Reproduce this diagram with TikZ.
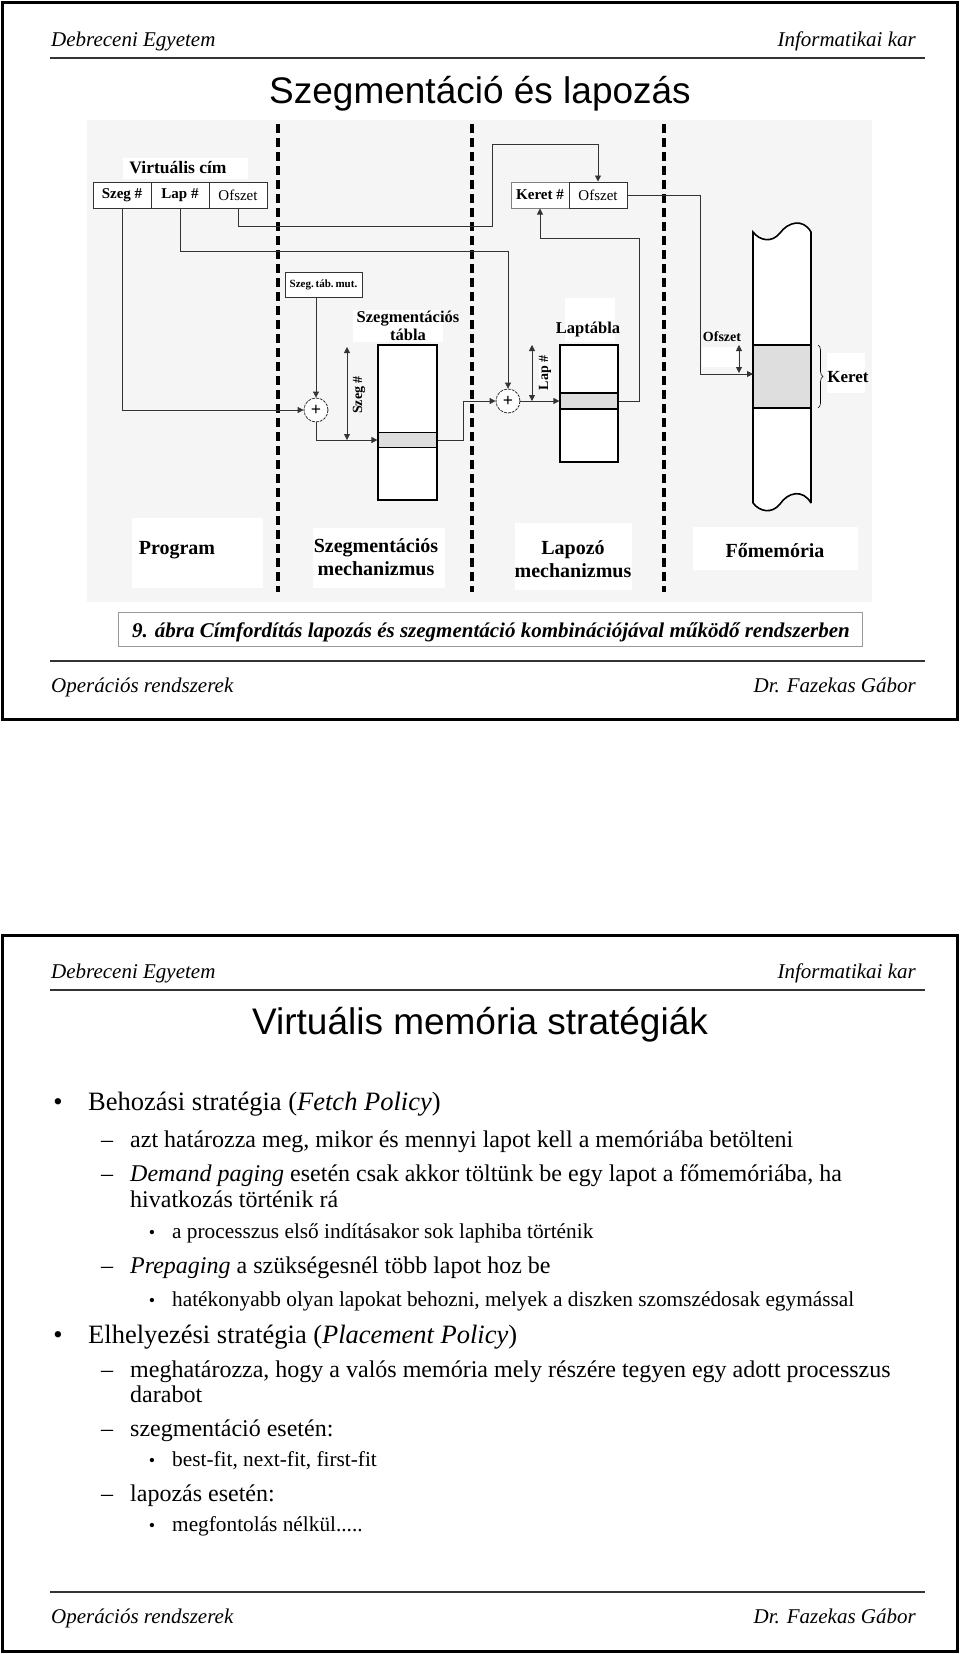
\documentclass[tikz,border=0pt]{standalone}
\usepackage{fontspec}
\setmainfont{Liberation Serif}
\newfontfamily\arialfont{Liberation Sans}
\usetikzlibrary{arrows.meta,decorations.pathreplacing}
\begin{document}
\begin{tikzpicture}[x=1pt,y=-1pt,
  conn/.style={line width=0.8pt,draw=black!80},
  arr/.style={-{Triangle[length=6pt,width=6pt]}},
  darr/.style={{Triangle[length=6pt,width=6pt]}-{Triangle[length=6pt,width=6pt]}},
  cell/.style={draw=black!80,line width=1pt,fill=white,minimum width=58pt,minimum height=26pt,inner sep=0pt,font=\fontsize{15}{15}\selectfont\bfseries},
  cellr/.style={cell,font=\fontsize{15}{15}\selectfont},
  lbl/.style={font=\fontsize{16.5}{18}\selectfont\bfseries,inner sep=1pt,align=center},
  biglbl/.style={font=\fontsize{20}{23}\selectfont\bfseries,align=center,inner sep=0pt},
  tbl/.style={draw=black,line width=1.6pt},
  divider/.style={line width=3.5pt,dash pattern=on 9pt off 5pt},
  pluscirc/.style={circle,draw=black!80,line width=0.8pt,dash pattern=on 3pt off 1pt,minimum size=24pt,inner sep=0pt,fill=white,font=\fontsize{18}{18}\selectfont\bfseries},
  hdr/.style={font=\fontsize{21}{24}\selectfont\itshape,inner sep=0pt},
  hrule/.style={line width=1.6pt,draw=black!80},
  ttl/.style={anchor=base,inner sep=0pt,font=\arialfont\fontsize{37}{40}\selectfont},
  lva/.style={anchor=base west,inner sep=0pt,font=\fontsize{26.5}{30}\selectfont},
  lvb/.style={anchor=base west,inner sep=0pt,font=\fontsize{24}{27}\selectfont},
  lvc/.style={anchor=base west,inner sep=0pt,font=\fontsize{21.3}{24}\selectfont},
  bula/.style={anchor=base,inner sep=0pt,font=\fontsize{26.5}{30}\selectfont},
  bulb/.style={anchor=base west,inner sep=0pt,font=\fontsize{24}{27}\selectfont},
  bulc/.style={anchor=base,inner sep=0pt,font=\fontsize{18}{20}\selectfont},
  whitebox/.style={fill=white,draw=none}
]
\fill[white] (0,0) rectangle (960,1654);
\useasboundingbox (0,0) rectangle (960,1654);

%%%%%%%%%%%%%%%% SLIDE 1
\draw[line width=3pt] (2.5,2.5) rectangle (957.5,719);
\node[hdr,anchor=base west] (h1l) at (51,47) {Debreceni Egyetem};
\node[hdr,anchor=base east] (h1r) at (916,47) {Informatikai kar};
\draw[hrule] (50,58) -- (925,58);
\node[ttl] (t1) at (480,103) {Szegmentáció és lapozás};

% diagram background
\fill[black!4] (87,120) rectangle (872,602);

% white label backgrounds
\fill[whitebox] (123,158) rectangle (248,179);
\fill[whitebox] (353,310) rectangle (443,342);
\fill[whitebox] (565,298) rectangle (615,342);
\fill[whitebox] (702,347) rectangle (738,367);
\fill[whitebox] (827,353) rectangle (865,393);
\fill[whitebox] (132,518) rectangle (263,588);
\fill[whitebox] (313,528) rectangle (445,588);
\fill[whitebox] (515,523) rectangle (632,590);
\fill[whitebox] (693,527) rectangle (858,570);

% dividers
\draw[divider] (278,124) -- (278,592);
\draw[divider] (472,124) -- (472,592);
\draw[divider] (664,124) -- (664,592);

% virtual address
\node[font=\fontsize{17.5}{18}\selectfont\bfseries,inner sep=0pt] (vc) at (178,168) {Virtuális cím};
\node[cell] (szeg) at (122,195) {Szeg \#};
\node[cell] (lap) at (180,195) {Lap \#};
\node[cellr] (ofs) at (238,195) {Ofszet};

% keret/ofszet result
\node[cell,draw=black!50] (ker) at (540,195) {Keret \#};
\node[cellr] (kofs) at (598,195) {Ofszet};

% seg table pointer
\node[draw=black!80,line width=0.8pt,fill=white,minimum width=77pt,minimum height=25pt,inner sep=0pt,font=\fontsize{11}{11}\selectfont\bfseries] (stm) at (323.5,284.5) {Szeg.\,táb.\,mut.};

% plus circles
\node[pluscirc] (plus1) at (316,410) {+};
\node[pluscirc] (plus2) at (508,401) {+};

% segment table
\node[lbl] (segtl) at (408,326) {Szegmentációs\\tábla};
\draw[tbl,fill=white] (378,345) rectangle (437,500);
\node[draw=black,line width=1.2pt,fill=black!13,minimum width=59pt,minimum height=15pt,inner sep=0pt] (segrow) at (407.5,440) {};
\draw[tbl] (378,345) rectangle (437,500);

% page table
\node[lbl] (laptl) at (588,330) {Laptábla};
\draw[tbl,fill=white] (560,345) rectangle (618,462);
\node[draw=black,line width=1.2pt,fill=black!13,minimum width=58pt,minimum height=16pt,inner sep=0pt] (laprow) at (589,401) {};
\draw[tbl] (560,345) rectangle (618,462);

% double arrows
\coordinate (sza) at (347,347);
\coordinate (szb) at (347,440);
\draw[conn,darr] (sza) -- (szb);
\node[font=\fontsize{14}{14}\selectfont\bfseries,rotate=90,inner sep=0pt] (szl) at (359,395) {Szeg \#};
\coordinate (lpa) at (532,345);
\coordinate (lpb) at (532,401);
\draw[conn,darr] (lpa) -- (lpb);
\node[font=\fontsize{14}{14}\selectfont\bfseries,rotate=90,inner sep=0pt,fill=white] (lpl) at (545,373) {Lap \#};

% memory column
\fill[white] (753,232) .. controls (760,241) and (772,243) .. (780,233) .. controls (788,222) and (803,218) .. (811,232) -- (811,503) .. controls (803,489) and (788,492) .. (780,504) .. controls (772,514) and (760,512) .. (753,503) -- cycle;
\fill[black!13] (753,345) rectangle (811,408);
\draw[line width=1.6pt] (753,345) -- (811,345) (753,408) -- (811,408);
\draw[line width=1.6pt] (753,503) -- (753,232) .. controls (760,241) and (772,243) .. (780,233) .. controls (788,222) and (803,218) .. (811,232) -- (811,503);
\draw[line width=1.6pt] (753,503) .. controls (760,512) and (772,514) .. (780,504) .. controls (788,492) and (803,489) .. (811,503);
\coordinate (memin) at (753,374);
\coordinate (ofa) at (739,345);
\coordinate (ofb) at (739,373);
\draw[conn,darr] (ofa) -- (ofb);
\node[font=\fontsize{14}{14}\selectfont\bfseries,inner sep=0pt] (ofl) at (722,337) {Ofszet};
\draw[line width=0.6pt,decorate,decoration={brace,amplitude=5pt}] (818,345) -- (818,408);
\node[font=\fontsize{17}{17}\selectfont\bfseries,inner sep=0pt] (kerl) at (848,377) {Keret};

% connectors
\coordinate (ofsy) at (0,226);
\coordinate (ofsbend) at (492,144);
\draw[conn,arr] (ofs.south) -- (ofs.south |- ofsy) -| (ofsbend) -| (kofs.north);
\coordinate (lapy) at (0,251);
\draw[conn,arr] (lap.south) -- (lap.south |- lapy) -| (plus2.north);
\draw[conn,arr] (szeg.south) |- (plus1.west);
\draw[conn,arr] (plus1 |- stm.south) -- (plus1.north);
\draw[conn,arr] (plus1.south) |- (segrow.west);
\coordinate (sb) at (463,0);
\draw[conn,arr] (segrow.east) -- (segrow.east -| sb) |- (plus2.west);
\draw[conn,arr] (plus2.east) -- (laprow.west);
\coordinate (lb) at (639,238);
\draw[conn,arr] (laprow.east) -| (lb) -| (ker.south);
\coordinate (kb) at (700,374);
\draw[conn,arr] (kofs.east) -| (kb) -- (memin);

% bottom labels
\node[biglbl] (lprog) at (177,550) {Program};
\node[biglbl] (lseg) at (376,557) {Szegmentációs\\mechanizmus};
\node[biglbl] (llap) at (573,559) {Lapozó\\mechanizmus};
\node[biglbl] (lmem) at (775,551) {Főmemória};

% caption
\node[draw=black!40,line width=0.8pt,minimum width=744pt,minimum height=34pt,inner sep=0pt,fill=white] (capbox) at (490,629) {};
\node[anchor=base,inner sep=0pt,font=\fontsize{21}{24}\selectfont\bfseries\itshape] (cap) at (491,637) {9. ábra Címfordítás lapozás és szegmentáció kombinációjával működő rendszerben};

\draw[hrule] (50,661) -- (925,661);
\node[hdr,anchor=base west] (f1l) at (51,692) {Operációs rendszerek};
\node[hdr,anchor=base east] (f1r) at (916,692) {Dr. Fazekas Gábor};

%%%%%%%%%%%%%%%% SLIDE 2
\draw[line width=3pt] (2.5,935) rectangle (957.5,1651.5);
\node[hdr,anchor=base west] (h2l) at (51,978) {Debreceni Egyetem};
\node[hdr,anchor=base east] (h2r) at (916,978) {Informatikai kar};
\draw[hrule] (50,990) -- (925,990);
\node[ttl] (t2) at (480,1034) {Virtuális memória stratégiák};

\node[bula] (d1) at (58,1110) {•};
\node[lva] (b1) at (88,1110) {Behozási stratégia (\textit{Fetch Policy})};
\node[bulb] (d2) at (101,1147) {–};
\node[lvb] (b2) at (130,1147) {azt határozza meg, mikor és mennyi lapot kell a memóriába betölteni};
\node[bulb] (d3) at (101,1181) {–};
\node[lvb] (b3) at (130,1181) {\textit{Demand paging} esetén csak akkor töltünk be egy lapot a főmemóriába, ha};
\node[lvb] (b3b) at (130,1207) {hivatkozás történik rá};
\node[bulc] (d4) at (152,1238) {•};
\node[lvc] (b4) at (172,1238) {a processzus első indításakor sok laphiba történik};
\node[bulb] (d5) at (101,1273) {–};
\node[lvb] (b5) at (130,1273) {\textit{Prepaging} a szükségesnél több lapot hoz be};
\node[bulc] (d6) at (152,1306) {•};
\node[lvc] (b6) at (172,1306) {hatékonyabb olyan lapokat behozni, melyek a diszken szomszédosak egymással};
\node[bula] (d7) at (58,1343) {•};
\node[lva] (b7) at (88,1343) {Elhelyezési stratégia (\textit{Placement Policy})};
\node[bulb] (d8) at (101,1377) {–};
\node[lvb] (b8) at (130,1377) {meghatározza, hogy a valós memória mely részére tegyen egy adott processzus};
\node[lvb] (b8b) at (130,1402) {darabot};
\node[bulb] (d9) at (101,1436) {–};
\node[lvb] (b9) at (130,1436) {szegmentáció esetén:};
\node[bulc] (d10) at (152,1466) {•};
\node[lvc] (b10) at (172,1466) {best-fit, next-fit, first-fit};
\node[bulb] (d11) at (101,1501) {–};
\node[lvb] (b11) at (130,1501) {lapozás esetén:};
\node[bulc] (d12) at (152,1531) {•};
\node[lvc] (b12) at (172,1531) {megfontolás nélkül.....};

\draw[hrule] (50,1592) -- (925,1592);
\node[hdr,anchor=base west] (f2l) at (51,1623) {Operációs rendszerek};
\node[hdr,anchor=base east] (f2r) at (916,1623) {Dr. Fazekas Gábor};
\end{tikzpicture}
\end{document}
